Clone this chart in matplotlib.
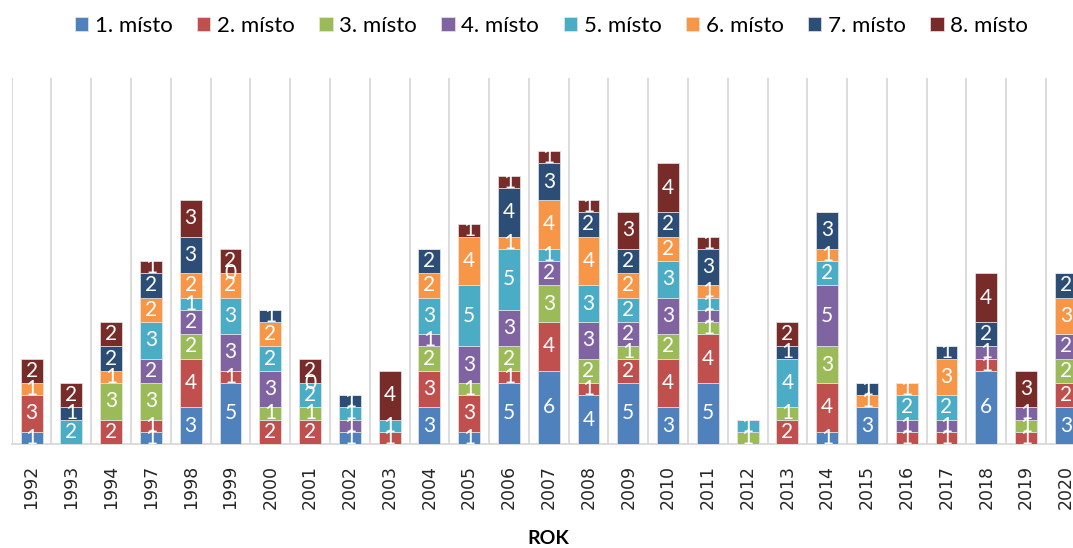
import numpy as np
import matplotlib.pyplot as plt

nan = np.nan

# roky (kategorie)
years = ['1992', '1993', '1994', '1997', '1998', '1999', '2000', '2001', '2002',
         '2003', '2004', '2005', '2006', '2007', '2008', '2009', '2010', '2011',
         '2012', '2013', '2014', '2015', '2016', '2017', '2018', '2019', '2020']

# počty umístění, nan = prázdná buňka
m1 = [1, nan, nan, 1, 3, 5, nan, nan, 1, nan, 3, 1, 5, 6, 4, 5, 3, 5, nan, nan, 1, 3, nan, nan, 6, nan, 3]
m2 = [3, nan, 2, 1, 4, 1, 2, 2, nan, 1, 3, 3, 1, 4, 1, 2, 4, 4, nan, 2, 4, nan, 1, 1, 1, 1, 2]
m3 = [nan, nan, 3, 3, 2, nan, 1, 1, nan, nan, 2, 1, 2, 3, 2, 1, 2, 1, 1, 1, 3, nan, nan, nan, nan, 1, 2]
m4 = [nan, nan, nan, 2, 2, 3, 3, nan, 1, nan, 1, 3, 3, 2, 3, 2, 3, 1, nan, nan, 5, nan, 1, 1, 1, 1, 2]
m5 = [nan, 2, nan, 3, 1, 3, 2, 2, 1, 1, 3, 5, 5, 1, 3, 2, 3, 1, 1, 4, 2, nan, 2, 2, nan, nan, nan]
m6 = [1, nan, 1, 2, 2, 2, 2, nan, nan, nan, 2, 4, 1, 4, 4, 2, 2, 1, nan, nan, 1, 1, 1, 3, nan, nan, 3]
m7 = [nan, 1, 2, 2, 3, 0, 1, 0, 1, nan, 2, nan, 4, 3, 2, 2, 2, 3, nan, 1, 3, 1, nan, 1, 2, nan, 2]
m8 = [2, 2, 2, 1, 3, 2, nan, 2, nan, 4, nan, 1, 1, 1, 1, 3, 4, 1, nan, 2, nan, nan, nan, nan, 4, 3, nan]

series = [m1, m2, m3, m4, m5, m6, m7, m8]
names = ['1. místo', '2. místo', '3. místo', '4. místo',
         '5. místo', '6. místo', '7. místo', '8. místo']
colors = ['#4F81BD', '#C0504D', '#9BBB59', '#8064A2',
          '#4BACC6', '#F79646', '#2C4D75', '#772C2A']

fig = plt.figure(figsize=(10.73, 5.48), dpi=100)
ax = fig.add_axes([0.0109, 0.1898, 1.001, 0.668])

x = np.arange(len(years))
bottom = np.zeros(len(years))
for vals, name, col in zip(series, names, colors):
    v = np.array(vals, dtype=float)
    h = np.nan_to_num(v)
    bars = ax.bar(x, h, width=0.55, bottom=bottom, color=col, label=name,
                  edgecolor='#e6e6e6', linewidth=0.5, zorder=3)
    labels = ['' if np.isnan(a) else str(int(a)) for a in v]
    ax.bar_label(bars, labels=labels, label_type='center', color='white',
                 fontsize=15, family='Lato', zorder=4)
    bottom += h

ax.set_xlim(-0.5, len(years) - 0.5)
ax.set_ylim(0, 30)

# svislé mřížky mezi kategoriemi
for b in np.arange(-0.5, len(years), 1.0):
    ax.axvline(b, color='#d9d9d9', linewidth=1.3, zorder=1)

for s in ['top', 'right', 'left']:
    ax.spines[s].set_visible(False)
ax.spines['bottom'].set_color('#d9d9d9')
ax.spines['bottom'].set_linewidth(1.3)
ax.set_yticks([])
ax.set_xticks(x)
ax.set_xticklabels(years, rotation=90, fontsize=12.5, color='#262626')
ax.tick_params(axis='x', length=0, pad=15)
ax.set_xlabel('ROK', fontsize=14, fontweight='bold', family='Lato')
ax.xaxis.set_label_coords(0.5, -0.235)

fig.legend(loc='center', bbox_to_anchor=(0.514, 0.953), ncol=8, frameon=False,
           prop={'family': 'Lato', 'size': 16}, handlelength=0.6,
           handleheight=0.6, handletextpad=0.3, columnspacing=1.1)

fig.savefig('out.png', dpi=100)
